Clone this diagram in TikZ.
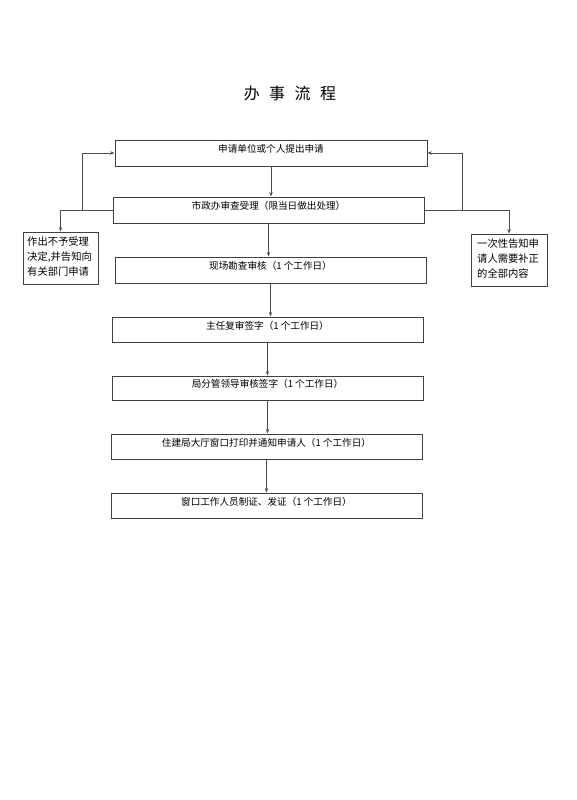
\documentclass[tikz,border=0pt]{standalone}
\usepackage{fontspec}
\setmainfont{Noto Sans CJK SC}
\usetikzlibrary{arrows.meta,calc}
\begin{document}
\begin{tikzpicture}[x=1pt,y=-1pt,
  box/.style={draw=black!75, line width=1pt, minimum width=311pt, minimum height=25pt, inner sep=0pt, text height=9pt, text depth=9.5pt, font=\fontsize{9.6}{12}\selectfont},
  sidebox/.style={draw=black!75, line width=1pt, minimum width=76pt, minimum height=52pt, inner sep=0pt},
  sidetext/.style={align=left, inner sep=0pt, font=\fontsize{10.3}{15}\selectfont, anchor=north west},
  link/.style={draw=black!70, line width=1pt},
  arr/.style={link, -{Stealth[length=4.5pt,width=3.4pt]}}]
\useasboundingbox[fill=white] (0,0) rectangle (576,800);
\node[font=\fontsize{16}{16}\selectfont] (title) at (290,93) {办\hspace{9.5pt}事\hspace{9.5pt}流\hspace{9.5pt}程};
\node[box, minimum width=312pt, minimum height=26pt] (b1) at (271,153) {申请单位或个人提出申请};
\node[box, minimum height=26pt] (b2) at (268.5,210) {市政办审查受理（限当日做出处理）};
\node[box, minimum height=26pt] (b3) at (270.5,270) {现场勘查审核（1 个工作日）};
\node[box] (b4) at (267.5,329.5) {主任复审签字（1 个工作日）};
\node[box, minimum height=24pt] (b5) at (267.5,388) {局分管领导审核签字（1 个工作日）};
\node[box] (b6) at (266.5,446.5) {住建局大厅窗口打印并通知申请人（1 个工作日）};
\node[box] (b7) at (266.5,505.5) {窗口工作人员制证、发证（1 个工作日）};
\node[sidebox, minimum width=75pt] (lbox) at (60.5,258) {};
\node[sidetext] (ltext) at (27,236.5) {作出不予受理\\决定,并告知向\\有关部门申请};
\node[sidebox] (rbox) at (509,260) {};
\node[sidetext] (rtext) at (477,239) {一次性告知申\\请人需要补正\\的全部内容};
\foreach \a/\b in {b1/b2,b2/b3,b3/b4,b4/b5,b5/b6,b6/b7}
  \draw[arr] (\a.south) -- (\a.south |- \b.north);
\coordinate (lj) at ($(b2.west)+(-30,0)$);
\coordinate (rj) at ($(b2.east)+(38,0)$);
\draw[arr] (b2.west) -| (lbox.north);
\draw[arr] (lj) |- (b1.west);
\draw[arr] (b2.east) -| (rbox.north);
\draw[arr] (rj) |- (b1.east);
\end{tikzpicture}
\end{document}
